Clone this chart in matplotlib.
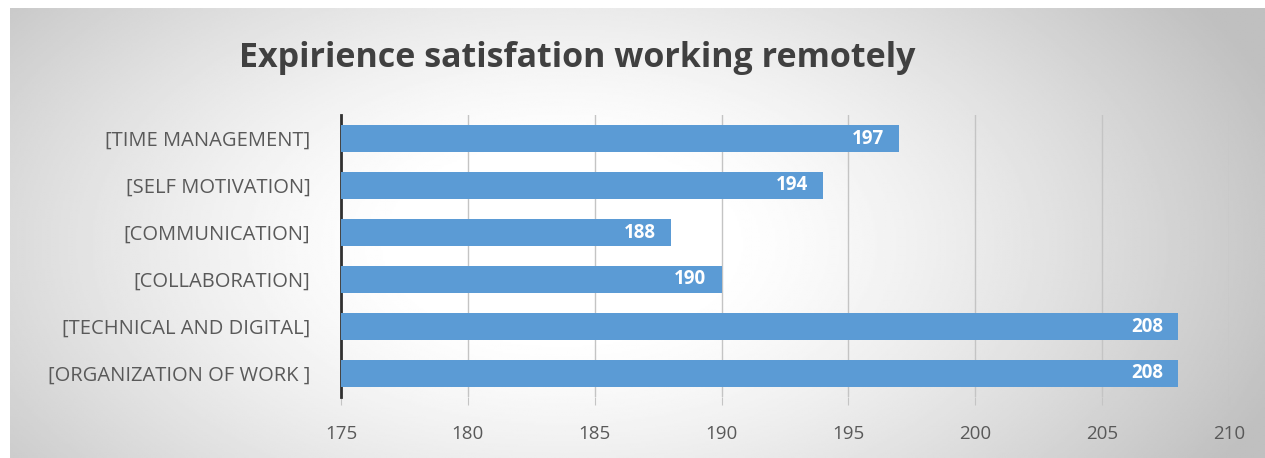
import numpy as np
from matplotlib import pyplot as plt

# datos de la encuesta
categorias = ['[ORGANIZATION OF WORK ]', '[TECHNICAL AND DIGITAL]', '[COLLABORATION]',
              '[COMMUNICATION]', '[SELF MOTIVATION]', '[TIME MANAGEMENT]']
valores = [208, 208, 190, 188, 194, 197]
ticks_x = [175, 180, 185, 190, 195, 200, 205, 210]

plt.rcParams['font.family'] = ['Open Sans', 'DejaVu Sans']

fig = plt.figure(figsize=(12.65, 4.58), dpi=100, facecolor='white')

# fondo con degradado radial (blanco en el centro, gris en los bordes)
fondo = fig.add_axes([10 / 1265, 0, 1255 / 1265, 450 / 458], zorder=0)
xx, yy = np.meshgrid(np.linspace(-1, 1, 600), np.linspace(-1, 1, 250))
r = np.sqrt(((xx + 0.12) / 1.0) ** 2 + ((yy - 0.05) / 1.6) ** 2)
gris = np.clip(1.0 - 0.26 * np.clip(r - 0.25, 0, None) ** 1.3, 0.75, 1.0)
fondo.imshow(gris, cmap='gray', vmin=0, vmax=1, aspect='auto', extent=[0, 1, 0, 1])
fondo.axis('off')

ax = fig.add_axes([341 / 1265, 1 - 397 / 458, (1229 - 341) / 1265, (397 - 115) / 458], zorder=1)
ax.set_facecolor('none')

y = np.arange(len(categorias))
ax.barh(y, [v - ticks_x[0] for v in valores], left=ticks_x[0], height=0.57,
        color='#5B9BD5', zorder=3)

for yi, v in zip(y, valores):
    ax.text(v - 0.6, yi, str(v), ha='right', va='center', color='white',
            fontsize=13.5, fontweight='bold', zorder=4)

ax.set_xlim(175, 210)
ax.set_ylim(-0.5, 5.5)
ax.set_xticks(ticks_x)
ax.set_yticks(y)
ax.set_yticklabels(categorias)
ax.grid(axis='x', color='#c4c4c4', linewidth=1, zorder=1)
ax.tick_params(axis='x', length=6, color='#c4c4c4', labelcolor='#595959', labelsize=13.5, pad=14)
ax.tick_params(axis='y', length=0, labelcolor='#595959', labelsize=14.5, pad=22)
for lado in ['top', 'right', 'bottom']:
    ax.spines[lado].set_visible(False)
ax.spines['left'].set_color('#303030')
ax.spines['left'].set_linewidth(2)

fig.text(577 / 1265, 1 - 58 / 458, 'Expirience satisfation working remotely', ha='center', va='center',
         fontsize=24.5, fontweight='bold', color='#404040')

fig.savefig('out.png', dpi=100)
